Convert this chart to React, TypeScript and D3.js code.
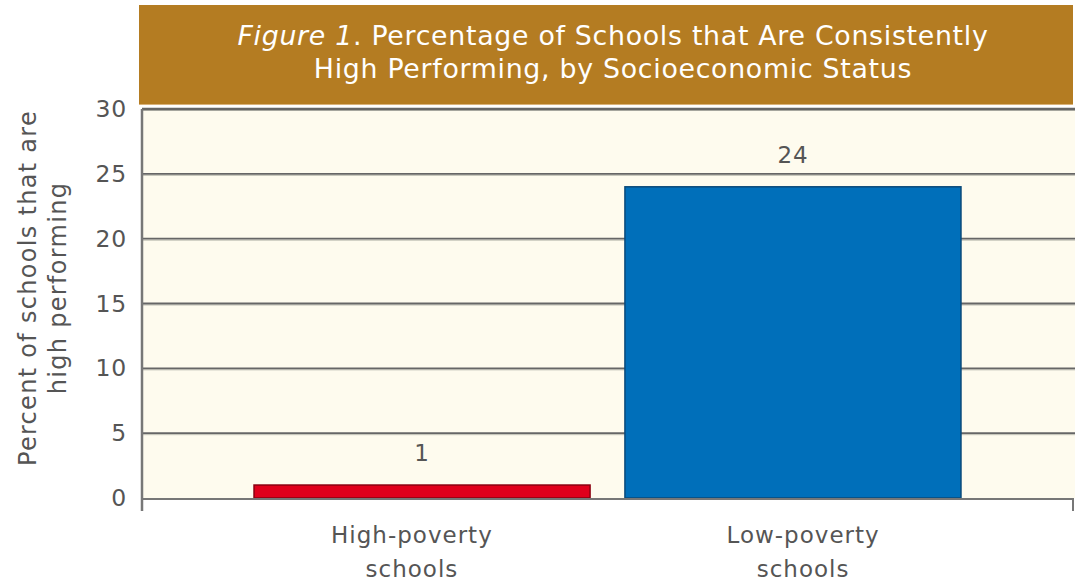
import React from "react";
import * as d3 from "d3";

const categories = ["High-poverty schools", "Low-poverty schools"];
const categoryLines = [["High-poverty", "schools"], ["Low-poverty", "schools"]];
const values = [1, 24];
const barColors = ["#E0001B", "#006FBA"];
const barStrokes = ["#8A0010", "#0A4A7A"];
const yTicks = [0, 5, 10, 15, 20, 25, 30];
const titleLines = ["Percentage of Schools that Are Consistently", "High Performing, by Socioeconomic Status"];
const yTitleLines = ["Percent of schools that are", "high performing"];

const W = 1078, H = 584;
const left = 142, right = 1074, top = 109, bottom = 498;
const FONT = "'DejaVu Sans', Verdana, sans-serif";
const TXT = "#555";

export default function App() {
  const y = d3.scaleLinear().domain([0, 30]).range([bottom, top]);
  const x = d3.scaleBand<string>().domain(categories).range([left, right - 1]).paddingInner(0.094).paddingOuter(0.302);
  const xl = d3.scalePoint<string>().domain(categories).range([left, right - 1]).padding(0.69);

  return (
    <svg width={W} height={H} style={{ position: "absolute", left: 0, top: 0, background: "#fff" }} fontFamily={FONT}>
      {/* title box */}
      <rect x={139} y={5} width={934} height={99} fill="#B47C22" />
      <line x1={139} x2={1073} y1={104.5} y2={104.5} stroke="#D9B27A" strokeWidth={1} />
      <text x={613} y={45} textAnchor="middle" fill="#fff" fontSize={26.8} letterSpacing={0.7}>
        <tspan fontStyle="italic">Figure 1</tspan>
        <tspan>{". " + titleLines[0]}</tspan>
      </text>
      <text x={613} y={78} textAnchor="middle" fill="#fff" fontSize={26.8} letterSpacing={0.7}>{titleLines[1]}</text>

      {/* plot background */}
      <rect x={left} y={top} width={right - left + 1} height={bottom - top} fill="#FEFBEE" />

      {/* gridlines */}
      {yTicks.filter(t => t > 0).map(t => (
        <g key={t}>
          <line x1={left} x2={right + 1} y1={y(t) + 1.5} y2={y(t) + 1.5} stroke="#BDBDB2" strokeWidth={1} />
          <line x1={left} x2={right + 1} y1={y(t)} y2={y(t)} stroke="#666" strokeWidth={t === 30 ? 2.5 : 1.8} />
        </g>
      ))}

      {/* bars */}
      {categories.map((c, i) => (
        <rect key={c} x={x(c)} y={y(values[i])} width={x.bandwidth()} height={y(0) - y(values[i])}
          fill={barColors[i]} stroke={barStrokes[i]} strokeWidth={1.5} />
      ))}

      {/* baseline & axis */}
      <line x1={left} x2={right} y1={y(0) + 1} y2={y(0) + 1} stroke="#777" strokeWidth={2} />
      <line x1={left} x2={left} y1={top} y2={511} stroke="#777" strokeWidth={2.5} />
      <line x1={right - 1} x2={right - 1} y1={y(0)} y2={511} stroke="#777" strokeWidth={2} />

      {/* value labels */}
      {categories.map((c, i) => (
        <text key={c} x={(x(c) as number) + x.bandwidth() / 2} y={y(values[i]) - 24} textAnchor="middle" fill={TXT} fontSize={23} letterSpacing={0.8}>
          {values[i]}
        </text>
      ))}

      {/* y tick labels */}
      {yTicks.map(t => (
        <text key={t} x={127} y={y(t) + 8} textAnchor="end" fill={TXT} fontSize={23.5} letterSpacing={0.8}>{t}</text>
      ))}

      {/* x labels */}
      {categories.map((c, i) => (
        <text key={c} x={xl(c)} textAnchor="middle" fill={TXT} fontSize={23} letterSpacing={1}>
          <tspan x={xl(c)} y={543}>{categoryLines[i][0]}</tspan>
          <tspan x={xl(c)} y={577}>{categoryLines[i][1]}</tspan>
        </text>
      ))}

      {/* y title */}
      <g transform="translate(0,288) rotate(-90)">
        <text textAnchor="middle" fill={TXT} fontSize={24} letterSpacing={1.3}>
          <tspan x={0} y={36}>{yTitleLines[0]}</tspan>
          <tspan x={0} y={66}>{yTitleLines[1]}</tspan>
        </text>
      </g>
    </svg>
  );
}
